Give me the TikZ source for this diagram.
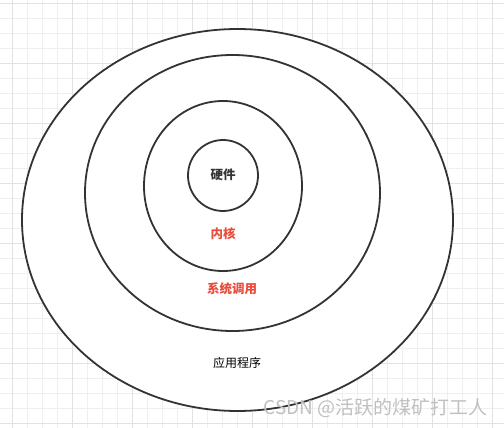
\documentclass[tikz,border=0pt]{standalone}
\usepackage{fontspec}
\newfontfamily\cjk{Noto Sans CJK SC}
\definecolor{gridminor}{HTML}{EFEFEF}
\definecolor{gridmajor}{HTML}{E2E2E2}
\definecolor{stroke}{HTML}{333333}
\definecolor{redtxt}{HTML}{EA4C3C}
\definecolor{wm}{HTML}{C0C0C0}
\begin{document}
\begin{tikzpicture}[x=1pt,y=-1pt,
  ring/.style={draw=stroke,line width=1.8pt,fill=white},
  lbl/.style={font=\cjk\fontsize{12.5}{14}\selectfont,inner sep=0pt}]
\useasboundingbox (0,0) rectangle (504,428);
\fill[white] (0,0) rectangle (504,428);
% grid
\foreach \i in {0,...,33} {
  \pgfmathsetmacro\xx{12.7+15*\i-15}
  \draw[gridminor,line width=0.8pt] (\xx,0) -- (\xx,428);
}
\foreach \i in {0,...,29} {
  \pgfmathsetmacro\yy{3.3+15*\i}
  \draw[gridminor,line width=0.8pt] (0,\yy) -- (504,\yy);
}
\foreach \i in {0,...,8} {
  \pgfmathsetmacro\xx{12.7+60*\i}
  \draw[gridmajor,line width=0.8pt] (\xx,0) -- (\xx,428);
}
\foreach \i in {0,...,7} {
  \pgfmathsetmacro\yy{3.3+60*\i}
  \draw[gridmajor,line width=0.8pt] (0,\yy) -- (504,\yy);
}
% rings
\path[ring] (237.5,220) ellipse [x radius=215.5, y radius=191];
\path[ring] (232.5,193) ellipse [x radius=147.5, y radius=138];
\path[ring] (223,186) ellipse [x radius=79, y radius=85];
\path[ring] (223,175.5) ellipse [x radius=35, y radius=35.5];
% labels
\node[lbl,text=stroke,font=\cjk\bfseries\fontsize{12.5}{14}\selectfont] (hw) at (223,175) {硬件};
\node[lbl,text=redtxt,font=\cjk\bfseries\fontsize{12.5}{14}\selectfont] (kern) at (223,234) {内核};
\node[lbl,text=redtxt,font=\cjk\bfseries\fontsize{12.5}{14}\selectfont] (sys) at (232,289) {系统调用};
\node[lbl,text=black,font=\cjk\fontsize{12}{14}\selectfont] (app) at (237,363) {应用程序};
% watermark
\node[inner sep=0pt,text=wm,font=\cjk\fontsize{19}{21}\selectfont,anchor=east] (wmk) at (488,408) {CSDN @活跃的煤矿打工人};
\end{tikzpicture}
\end{document}
